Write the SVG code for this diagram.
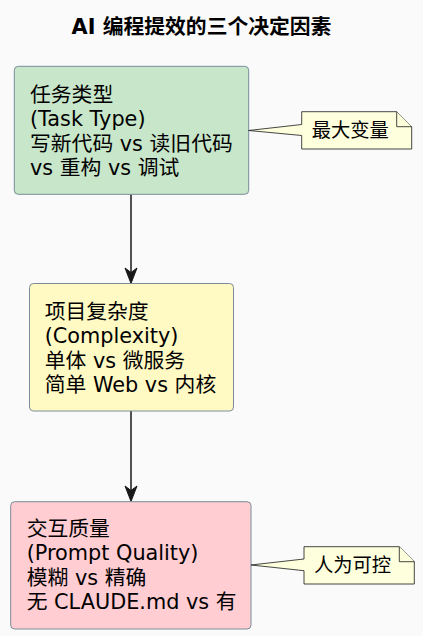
<svg xmlns="http://www.w3.org/2000/svg" width="423" height="636" viewBox="0 0 423 636">
<defs>
<style>
.t{font-family:"DejaVu Sans","Noto Sans CJK SC",sans-serif;font-size:20.8px;fill:#000}
.title{font-family:"DejaVu Sans","Noto Sans CJK SC",sans-serif;font-size:20.8px;font-weight:bold;fill:#000}
.n{font-family:"DejaVu Sans","Noto Sans CJK SC",sans-serif;font-size:19.3px;fill:#000}
.box{stroke:#7A8C99;stroke-width:1}
.note{fill:#FEFFDD;stroke:#181818;stroke-width:0.8}
.edge{stroke:#181818;stroke-width:1.5;fill:none}
.head{fill:#181818;stroke:#181818;stroke-width:1}
</style>
</defs>
<rect width="423" height="636" fill="#FAFAFA"/>
<text class="title" x="201.5" y="34" text-anchor="middle">AI 编程提效的三个决定因素</text>
<g id="connectors">
<line class="edge" x1="131" y1="194.5" x2="131" y2="280"/>
<path class="head" d="M125,268 L131,283.5 L137,268 L131,272.5 Z"/>
<line class="edge" x1="131" y1="411" x2="131" y2="498"/>
<path class="head" d="M125,486 L131,501.5 L137,486 L131,490.5 Z"/>
</g>
<g id="task">
<rect class="box" x="14.3" y="66.3" width="234.4" height="128" rx="4" fill="#C8E6C9"/>
<text class="t" x="30" y="102">任务类型</text>
<text class="t" x="30" y="126">(Task Type)</text>
<text class="t" x="30" y="150.5">写新代码 vs 读旧代码</text>
<text class="t" x="30" y="175">vs 重构 vs 调试</text>
</g>
<g id="note1">
<path class="note" d="M301.7,111.7 L396.7,111.7 L411.7,126.7 L411.7,149 L301.7,149 L301.7,135.5 L248.7,130.5 L301.7,124.5 Z"/>
<path class="note" d="M396.7,111.7 L396.7,126.7 L411.7,126.7" fill="none"/>
<text class="n" x="311.7" y="137">最大变量</text>
</g>
<g id="complexity">
<rect class="box" x="29.5" y="283.5" width="204" height="127.5" rx="4" fill="#FFF9C4"/>
<text class="t" x="44.7" y="318.5">项目复杂度</text>
<text class="t" x="44.7" y="343">(Complexity)</text>
<text class="t" x="44.7" y="367.5">单体 vs 微服务</text>
<text class="t" x="44.7" y="392">简单 Web vs 内核</text>
</g>
<g id="prompt">
<rect class="box" x="10.7" y="501.7" width="240.3" height="127.3" rx="4" fill="#FFCDD2"/>
<text class="t" x="26.7" y="535.5">交互质量</text>
<text class="t" x="26.7" y="560">(Prompt Quality)</text>
<text class="t" x="26.7" y="584.5">模糊 vs 精确</text>
<text class="t" x="26.7" y="609">无 CLAUDE.md vs 有</text>
</g>
<g id="note2">
<path class="note" d="M304,546.7 L399.3,546.7 L414.3,561.7 L414.3,584 L304,584 L304,570.7 L251,565 L304,559 Z"/>
<path class="note" d="M399.3,546.7 L399.3,561.7 L414.3,561.7" fill="none"/>
<text class="n" x="314" y="572">人为可控</text>
</g>
</svg>
